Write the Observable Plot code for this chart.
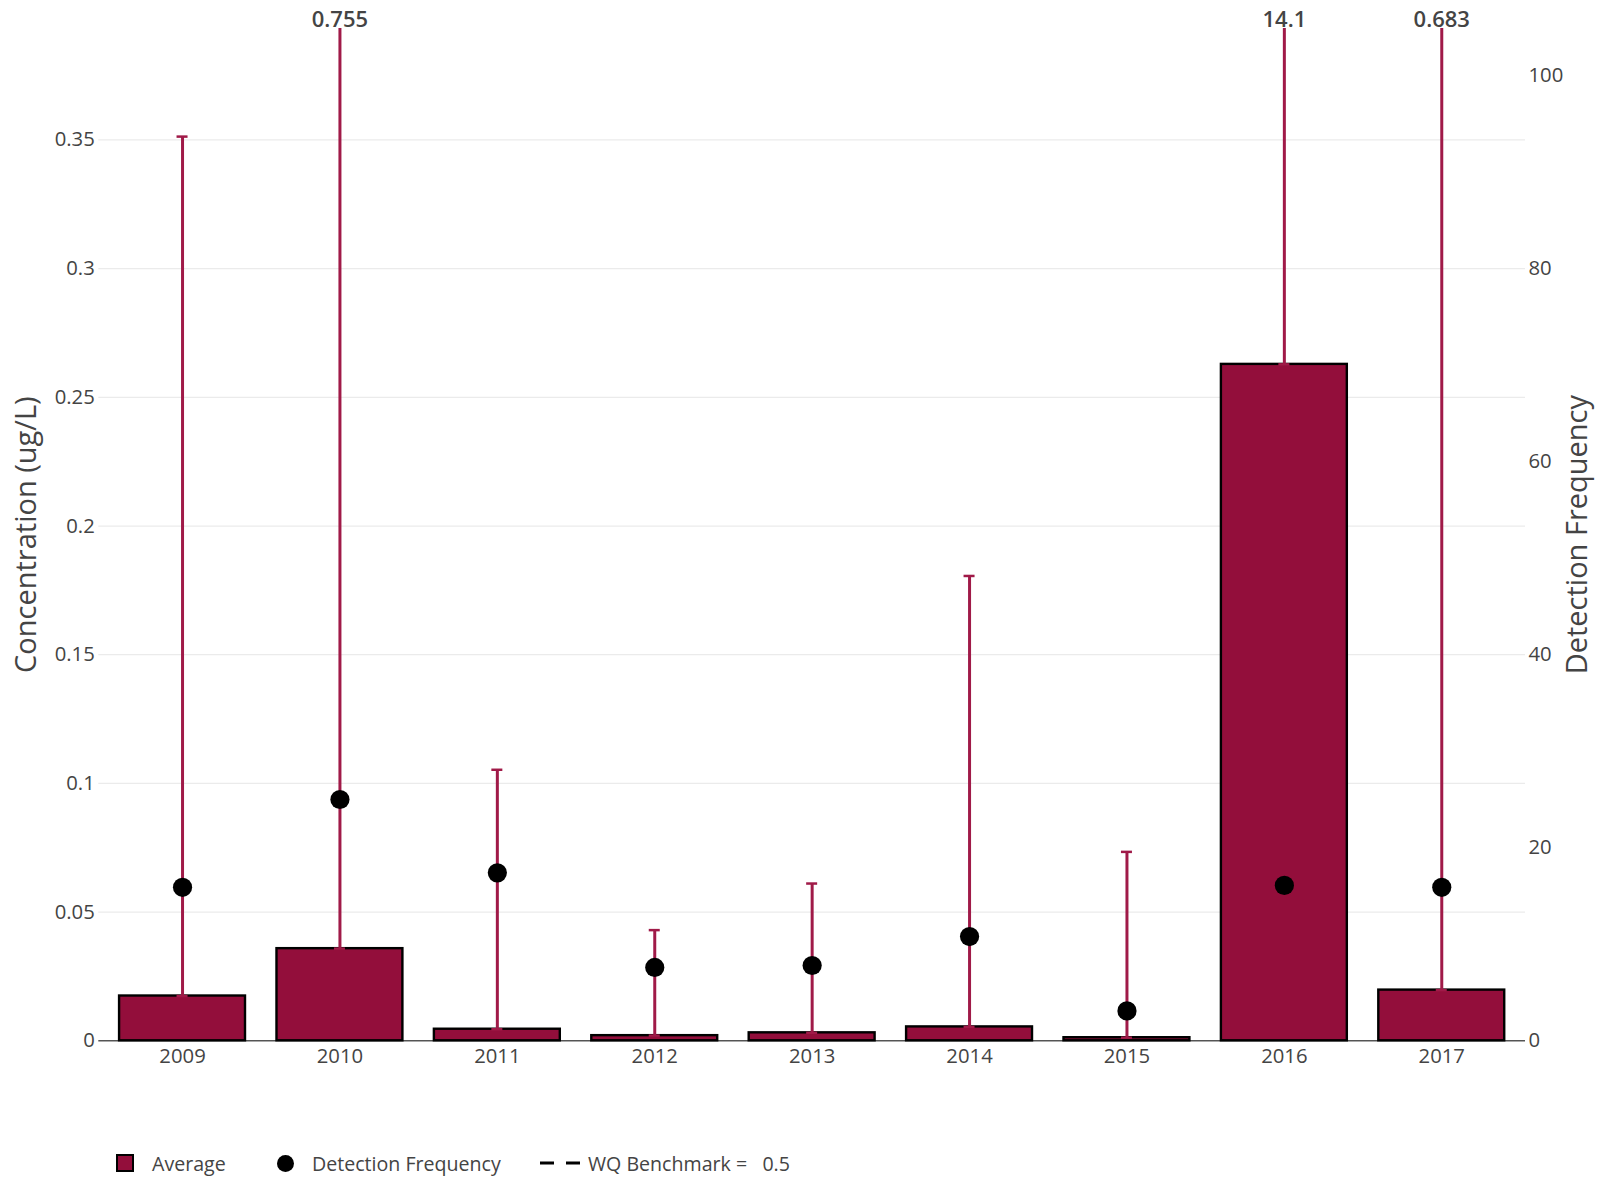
<!DOCTYPE html>
<html><head><meta charset="utf-8">
<script src="https://cdn.jsdelivr.net/npm/d3@7"></script>
<script src="https://cdn.jsdelivr.net/npm/@observablehq/plot@0.6"></script>
<style>
body{margin:0;background:#fff;font-family:"Open Sans",sans-serif;}
#wrap{position:relative;width:1608px;height:1179px;overflow:hidden;}
#chart svg{display:block;}
#legend{position:absolute;left:0;top:1150px;height:26px;width:1608px;font-size:19.6px;color:#444;font-family:"Open Sans",sans-serif;}
.li{position:absolute;top:0;height:26px;display:flex;align-items:center;white-space:pre;}
</style></head><body>
<div id="wrap"><div id="chart"></div><div id="legend"></div></div>
<script>
// ---- data ----
const years = ["2009","2010","2011","2012","2013","2014","2015","2016","2017"];
const averageConc = [0.0174, 0.0358, 0.0045, 0.0020, 0.0031, 0.0054, 0.0012, 0.2628, 0.0197];
const maxConc = [0.3513, 0.755, 0.1053, 0.0430, 0.0611, 0.1806, 0.0734, 14.1, 0.683];
const detectionFreq = [15.9, 25.0, 17.4, 7.6, 7.8, 10.8, 3.1, 16.1, 15.9];
const leftTicks = [0, 0.05, 0.1, 0.15, 0.2, 0.25, 0.3, 0.35];
const rightTicks = [0, 20, 40, 60, 80, 100];
const legendLabels = ["Average", "Detection Frequency", "WQ Benchmark =   0.5"];
const benchmark = 0.5;
const yTitle = "Concentration (ug/L)";
const y2Title = "Detection Frequency";

// ---- styling / layout ----
const W = 1608, H = 1110;
const mL = 98.3, mR = 83, mT = 28, mB = 69.7;
const yMax = 0.3933, y2Max = 104.87;
const ratio = yMax / y2Max;
const barColor = "#930e3b";
const errColor = "#a01a48";
const pIn = 0.2, pOut = 0.132;
const step = (W - mL - mR) / (years.length - pIn + 2 * pOut);
const capW = 11;
const capInset = (step * (1 - pIn) - capW) / 2;

const rows = years.map((yr, i) => ({
  year: yr, avg: averageConc[i], max: maxConc[i], df: detectionFreq[i]
}));
const inRange = rows.filter(d => d.max <= yMax);
const overflow = rows.filter(d => d.max > yMax);

const chart = Plot.plot({
  width: W, height: H,
  marginLeft: mL, marginRight: mR, marginTop: mT, marginBottom: mB,
  style: {fontFamily: "Open Sans, sans-serif", fontSize: "20.3px", color: "#444", background: "#fff"},
  x: {type: "band", domain: years, paddingInner: pIn, paddingOuter: pOut, round: false, label: null},
  y: {domain: [0, yMax], clamp: true, label: null},
  marks: [
    Plot.gridY(leftTicks.filter(t => t > 0), {stroke: "#ebebeb", strokeOpacity: 1, strokeWidth: 1.2}),
    Plot.ruleY([0], {stroke: "#555", strokeWidth: 1.5}),
    Plot.axisY({anchor: "left", ticks: leftTicks, tickSize: 0, tickPadding: 4, label: null,
      tickFormat: d => String(+d.toFixed(2)), fill: "#444"}),
    Plot.axisY({anchor: "right", ticks: rightTicks.map(v => v * ratio), tickSize: 0, tickPadding: 3, label: null,
      tickFormat: d => String(Math.round(d / ratio)), fill: "#444"}),
    Plot.axisX({tickSize: 0, tickPadding: 8, label: null, fill: "#444"}),
    Plot.barY(rows, {x: "year", y: "avg", fill: barColor, stroke: "#000", strokeWidth: 2.4}),
    Plot.ruleX(rows, {x: "year", y1: "avg", y2: "max", stroke: errColor, strokeWidth: 3}),
    Plot.tickY(inRange, {x: "year", y: "max", stroke: errColor, strokeWidth: 2.5, insetLeft: capInset, insetRight: capInset}),
    Plot.tickY(rows, {x: "year", y: "avg", stroke: errColor, strokeWidth: 2.5, insetLeft: capInset, insetRight: capInset}),
    Plot.dot(rows, {x: "year", y: d => d.df * ratio, r: 9.6, fill: "#000", stroke: "none"}),
    Plot.text(overflow, {x: "year", text: d => String(d.max), frameAnchor: "top", lineAnchor: "middle", dy: -8.5,
      fontSize: 22, fontWeight: 600, fill: "#444"}),
    Plot.text([yTitle], {frameAnchor: "left", textAnchor: "middle", lineAnchor: "middle", dx: -72.3, rotate: -90,
      fontSize: 29, fill: "#444", text: d => d}),
    Plot.text([y2Title], {frameAnchor: "right", textAnchor: "middle", lineAnchor: "middle", dx: 52, rotate: -90,
      fontSize: 29, fill: "#444", text: d => d})
  ]
});
document.getElementById("chart").appendChild(chart);

// ---- legend ----
const leg = document.getElementById("legend");
function item(left, html) {
  const el = document.createElement("div");
  el.className = "li"; el.style.left = left + "px"; el.innerHTML = html;
  leg.appendChild(el); return el;
}
item(116, `<div style="width:14px;height:14px;background:${barColor};border:2px solid #000"></div>`);
item(152, "").textContent = legendLabels[0];
item(277, `<div style="width:17px;height:17px;border-radius:50%;background:#000"></div>`);
item(312, "").textContent = legendLabels[1];
item(540, `<svg width="40" height="6"><line x1="0" x2="40" y1="3" y2="3" stroke="#000" stroke-width="3" stroke-dasharray="14,12"></line></svg>`);
item(588, "").textContent = legendLabels[2];
</script>
</body></html>
